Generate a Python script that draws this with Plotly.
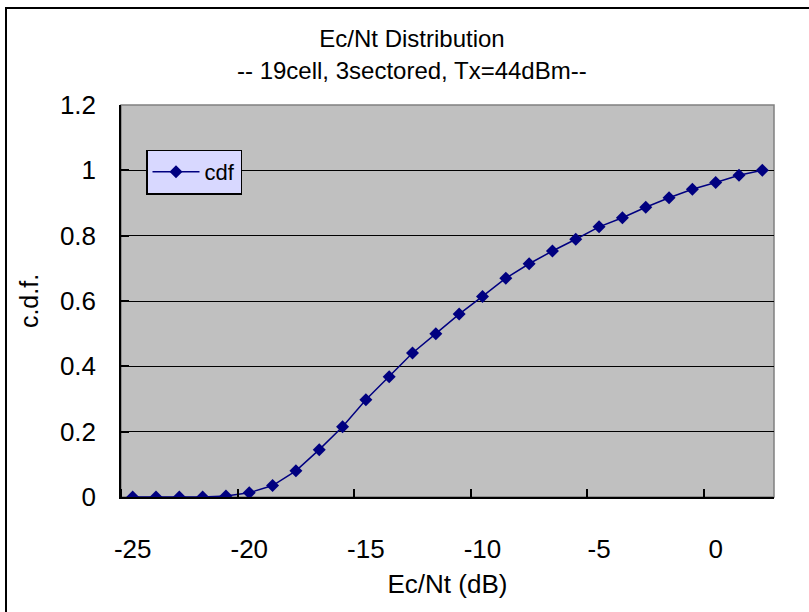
import plotly.graph_objects as go

# ---- data ----
ecnt_db = [-25, -24, -23, -22, -21, -20, -19, -18, -17, -16, -15, -14, -13, -12,
           -11, -10, -9, -8, -7, -6, -5, -4, -3, -2, -1, 0, 1, 2]
cdf = [0.0, 0.0, 0.0, 0.0, 0.003, 0.013, 0.035, 0.08, 0.145, 0.215, 0.298, 0.368,
       0.441, 0.50, 0.56, 0.614, 0.67, 0.714, 0.753, 0.789, 0.827, 0.855, 0.887,
       0.916, 0.942, 0.963, 0.985, 1.0]
x_tick_vals = [-25, -20, -15, -10, -5, 0]
x_tick_text = ["-25", "-20", "-15", "-10", "-5", "0"]
y_tick_vals = [0, 0.2, 0.4, 0.6, 0.8, 1.0, 1.2]
y_tick_text = ["0", "0.2", "0.4", "0.6", "0.8", "1", "1.2"]
title_text = "Ec/Nt Distribution"
subtitle_text = "-- 19cell, 3sectored, Tx=44dBm--"

FONT = "Liberation Sans, Arial, sans-serif"
W, H = 809, 612
L, R, T, B = 121, 35, 105, 115
pw, ph = W - L - R, H - T - B

fig = go.Figure()
fig.add_trace(go.Scatter(
    x=ecnt_db, y=cdf, mode="lines+markers", name="cdf",
    line=dict(color="#000080", width=1.5),
    marker=dict(symbol="diamond", size=10, color="#000080"),
))

fig.update_layout(
    width=W, height=H,
    margin=dict(l=L, r=R, t=T, b=B),
    paper_bgcolor="white",
    plot_bgcolor="#C0C0C0",
    font=dict(family=FONT, color="black"),
    showlegend=True,
    legend=dict(
        x=(146 - L) / pw, y=(497 - 172) / ph, xanchor="left", yanchor="middle",
        bgcolor="#D8D8FF", bordercolor="black", borderwidth=1.5,
        itemwidth=47,
        font=dict(size=22, family=FONT),
    ),
    title=dict(text=title_text, x=412 / W, xanchor="center",
               y=1 - 39 / H, yanchor="middle", yref="container",
               font=dict(size=24, family=FONT)),
    annotations=[dict(text=subtitle_text, xref="paper", yref="paper",
                      x=(412 - L) / pw, y=(497 - 71) / ph, xanchor="center", yanchor="middle",
                      showarrow=False, font=dict(size=24, family=FONT))],
    shapes=[
        # plot-area frame (grey top/right)
        dict(type="rect", xref="paper", yref="paper", x0=0, y0=0, x1=1, y1=1,
             line=dict(color="#808080", width=1.5), layer="below"),
        # chart outer border
        dict(type="rect", xref="paper", yref="paper",
             x0=(6 - L) / pw, x1=(820 - L) / pw,
             y0=(497 - 625) / ph, y1=(497 - 8) / ph,
             line=dict(color="black", width=2)),
    ],
)

fig.update_xaxes(
    range=[-25.5, 2.5], tickmode="array", tickvals=x_tick_vals, ticktext=x_tick_text,
    ticks="", showgrid=False, zeroline=False,
    showline=True, linecolor="black", linewidth=1.5,
    tickfont=dict(size=26, family=FONT), ticklabelstandoff=28,
    minor=dict(tickmode="array", tickvals=[v - 0.5 for v in x_tick_vals],
               ticks="inside", ticklen=8, tickcolor="black", tickwidth=1.5,
               showgrid=False),
    title=dict(text="Ec/Nt (dB)", font=dict(size=26, family=FONT), standoff=12),
)
fig.update_yaxes(
    range=[0, 1.2], tickmode="array", tickvals=y_tick_vals, ticktext=y_tick_text,
    ticks="inside", ticklen=8, tickcolor="black", tickwidth=1.5,
    showgrid=False, zeroline=False,
    showline=True, linecolor="black", linewidth=1.5,
    tickfont=dict(size=26, family=FONT), ticklabelstandoff=18,
    minor=dict(tickmode="array", tickvals=y_tick_vals[1:-1], ticks="",
               showgrid=True, gridcolor="black", gridwidth=1.3),
    title=dict(text="c.d.f.", font=dict(size=25, family=FONT), standoff=14),
)

fig.write_html("out.html")
